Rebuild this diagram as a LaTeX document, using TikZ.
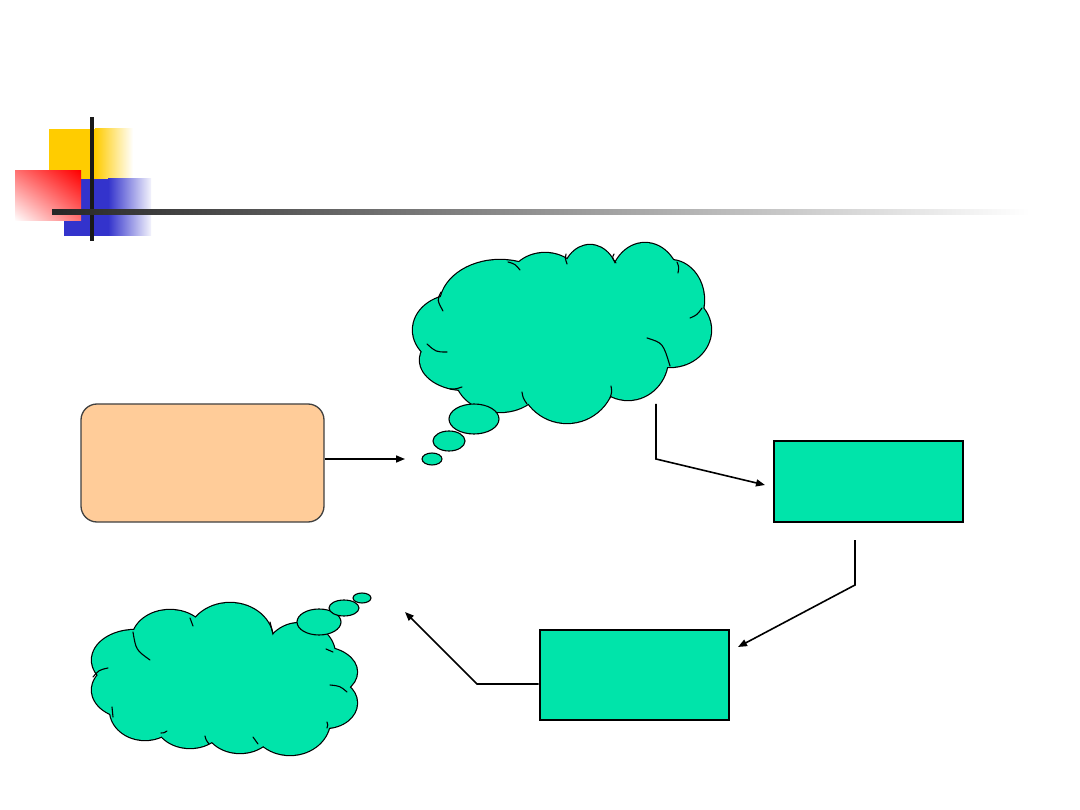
\documentclass[tikz,border=0pt]{standalone}
\usetikzlibrary{arrows.meta,calc,shadings}
\definecolor{cloudgreen}{RGB}{0,228,170}
\definecolor{peach}{RGB}{255,204,153}
\definecolor{logoyellow}{RGB}{255,204,0}
\definecolor{logoblue}{RGB}{51,51,204}
\tikzset{
  boxgreen/.style={draw=black, line width=2.6pt, fill=cloudgreen, inner sep=0pt, minimum width=189pt},
  peachbox/.style={draw=black!75, line width=1.3pt, fill=peach, rounded corners=16pt, inner sep=0pt, minimum width=243pt, minimum height=118pt},
  conn/.style={line width=1.6pt, -{Triangle[length=9pt,width=7pt]}},
  cloudout/.style={draw=black, line width=2.4pt, fill=cloudgreen},
  cloudin/.style={fill=cloudgreen},
  bubble/.style={draw=black, line width=1.1pt, fill=cloudgreen},
  inarc/.style={draw=black, line width=1.1pt, line cap=round},
}
\begin{document}
\begin{tikzpicture}[x=1pt,y=-1pt]
\useasboundingbox (0,0) rectangle (1080,810);
\fill[white] (0,0) rectangle (1080,810);
% logo
\fill[logoyellow] (49,129) rectangle (95,179);
\shade[left color=logoyellow, right color=white] (95,129) rectangle (133,179);
\fill[logoblue] (64,179) rectangle (108,236);
\shade[left color=logoblue, right color=logoblue!6] (108,179) rectangle (151,236);
\shade[upper right=red, lower left=white, upper left=red!55, lower right=red!55] (15,171) rectangle (81,221);
\fill[black!90] (90,117) rectangle (94,241);
\shade[left color=black!85, middle color=black!55, right color=white] (52,210) rectangle (1030,215);

% cloud 1
\foreach \cx/\cy/\a/\b in {455/330/42/35, 500/305/60/45, 545/285/37/32, 590/280/28/35, 645/285/35/42, 670/300/34/40, 670/330/41/37, 628/358/40/42, 567/375/48/48, 500/375/45/37, 465/360/45/30}
  \path[cloudout] (\cx,\cy) ellipse [x radius=\a pt, y radius=\b pt];
\foreach \cx/\cy/\a/\b in {455/330/42/35, 500/305/60/45, 545/285/37/32, 590/280/28/35, 645/285/35/42, 670/300/34/40, 670/330/41/37, 628/358/40/42, 567/375/48/48, 500/375/45/37, 465/360/45/30, 560/330/110/60}
  \path[cloudin] (\cx,\cy) ellipse [x radius=\a pt, y radius=\b pt];
\draw[inarc] (441,292) .. controls (437,300) .. (443,311);
\draw[inarc] (427,344) .. controls (436,352) .. (447,352);
\draw[inarc] (508,262) .. controls (515,264) .. (520,270);
\draw[inarc] (566,254) .. controls (565,258) .. (567,264);
\draw[inarc] (614,254) .. controls (612,258) .. (616,263);
\draw[inarc] (677,262) .. controls (679,267) .. (678,273);
\draw[inarc] (690,318) .. controls (697,315) .. (702,308);
\draw[inarc] (647,338) .. controls (663,343) .. (670,366);
\draw[inarc] (611,386) .. controls (612,392) .. (610,398);
\draw[inarc] (522,392) .. controls (523,398) .. (527,404);
\draw[inarc] (450,389) .. controls (456,389) .. (462,387);
\coordinate (cloudA) at (560,330);
\path[bubble] (474,419) ellipse [x radius=25pt, y radius=15pt];
\path[bubble] (449,441) ellipse [x radius=16pt, y radius=10pt];
\path[bubble] (432,459) ellipse [x radius=10pt, y radius=6pt];

% cloud 2
\foreach \cx/\cy/\a/\b in {170/640/38/30, 230/640/43/37, 300/655/35/32, 135/660/43/30, 130/690/38/28, 145/710/35/30, 190/720/35/28, 240/725/35/28, 290/720/40/35, 320/672/37/25, 325/703/32/25}
  \path[cloudout] (\cx,\cy) ellipse [x radius=\a pt, y radius=\b pt];
\foreach \cx/\cy/\a/\b in {170/640/38/30, 230/640/43/37, 300/655/35/32, 135/660/43/30, 130/690/38/28, 145/710/35/30, 190/720/35/28, 240/725/35/28, 290/720/40/35, 320/672/37/25, 325/703/32/25, 225/680/100/50}
  \path[cloudin] (\cx,\cy) ellipse [x radius=\a pt, y radius=\b pt];
\draw[inarc] (133,632) .. controls (136,650) .. (150,660);
\draw[inarc] (190,618) .. controls (191,622) .. (193,626);
\draw[inarc] (270,622) .. controls (272,628) .. (273,634);
\draw[inarc] (326,649) .. controls (330,650) .. (333,652);
\draw[inarc] (330,685) .. controls (340,686) .. (347,692);
\draw[inarc] (327,722) .. controls (328,725) .. (327,728);
\draw[inarc] (253,737) .. controls (255,741) .. (258,744);
\draw[inarc] (205,736) .. controls (206,740) .. (209,744);
\draw[inarc] (161,733) .. controls (164,733) .. (167,731);
\draw[inarc] (112,707) .. controls (112,712) .. (113,717);
\draw[inarc] (93,677) .. controls (99,670) .. (108,668);
\coordinate (cloudB) at (225,680);
\path[bubble] (319,622) ellipse [x radius=22pt, y radius=13pt];
\path[bubble] (344,608) ellipse [x radius=15pt, y radius=8pt];
\path[bubble] (362,598) ellipse [x radius=9pt, y radius=5pt];

% boxes
\node[peachbox] (src) at (202.5,463) {};
\node[boxgreen, minimum height=81pt] (boxA) at (868.5,481.5) {};
\node[boxgreen, minimum height=90pt] (boxB) at (634.5,675) {};

% connector end points
\coordinate (a1) at (405,459);
\coordinate (c1out) at (656,404);
\coordinate (c1bend) at (656,459);
\coordinate (a2) at (765,485);
\coordinate (bAout) at (855,540);
\coordinate (bAbend) at (855,585);
\coordinate (a3) at (738,647);
\coordinate (bBbend) at (477,684);
\coordinate (a4) at (405,612);

\draw[conn] (src.east |- a1) -- (a1);
\draw[conn] (c1out) -- (c1bend) -- (a2);
\draw[conn] (bAout) -- (bAbend) -- (a3);
\draw[conn] (boxB.west |- bBbend) -- (bBbend) -- (a4);
\end{tikzpicture}
\end{document}
